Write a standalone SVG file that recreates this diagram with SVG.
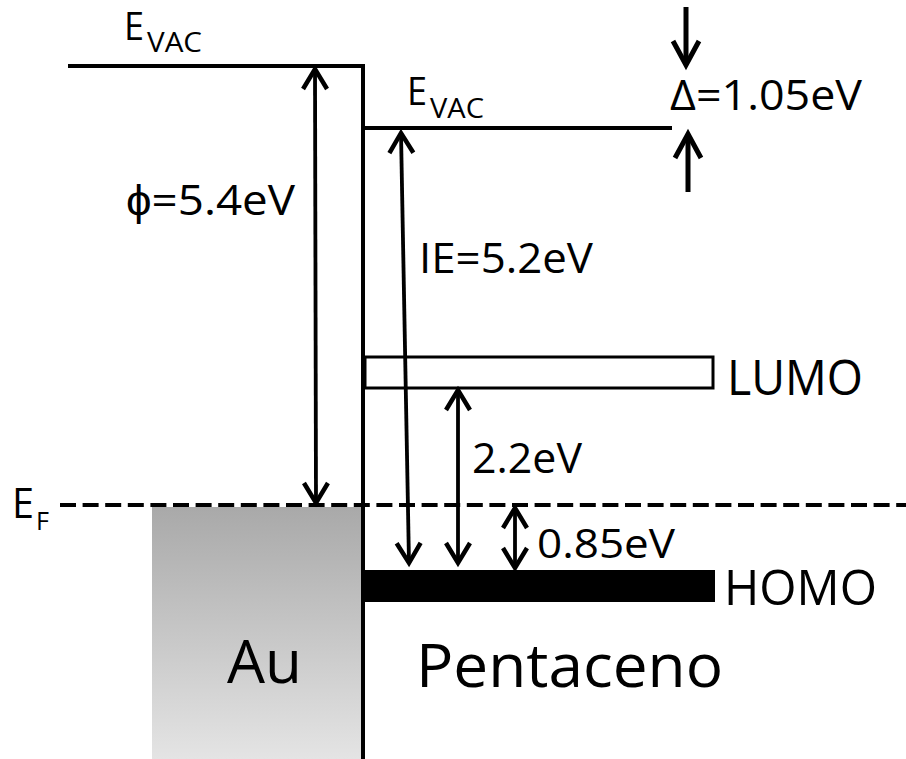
<svg xmlns="http://www.w3.org/2000/svg" width="906" height="759" viewBox="0 0 906 759">
<style>
.t{font-family:"Open Sans","Liberation Sans",sans-serif;fill:#000}
.lvl{stroke:#000;stroke-width:4;fill:none}
.arr{stroke:#000;stroke-width:3.8;fill:none;marker-start:url(#chev);marker-end:url(#chev)}
.arrB{stroke:#000;stroke-width:5;fill:none;marker-end:url(#chevB)}
</style>
<defs>
<marker id="chev" markerUnits="userSpaceOnUse" orient="auto-start-reverse" refX="0" refY="0" markerWidth="40" markerHeight="40" viewBox="-30 -20 40 40" overflow="visible">
<path d="M-20,-12 L0,0 L-20,12" fill="none" stroke="#000" stroke-width="4.5" stroke-linejoin="miter"/>
</marker>
<marker id="chevB" markerUnits="userSpaceOnUse" orient="auto" refX="0" refY="0" markerWidth="40" markerHeight="40" viewBox="-30 -20 40 40" overflow="visible">
<path d="M-24,-13 L0,0 L-24,13" fill="none" stroke="#000" stroke-width="5"/>
</marker>
<linearGradient id="auGrad" x1="0" y1="0" x2="0" y2="1">
<stop offset="0" stop-color="#a9a9a9"/>
<stop offset="1" stop-color="#e4e4e4"/>
</linearGradient>
</defs>
<rect width="906" height="759" fill="#fff"/>

<g id="au">
<rect x="152" y="507" width="210" height="252" fill="url(#auGrad)"/>
<text class="t" x="227" y="683" font-size="60" textLength="75" lengthAdjust="spacingAndGlyphs">Au</text>
</g>

<g id="interface">
<path class="lvl" d="M68,66 H363 V759"/>
</g>

<g id="evac-au">
<text class="t" x="124" y="40" font-size="39" textLength="20" lengthAdjust="spacingAndGlyphs">E</text>
<text class="t" x="147" y="52" font-size="27" textLength="55" lengthAdjust="spacingAndGlyphs">VAC</text>
</g>

<g id="evac-pent">
<path class="lvl" d="M363,128 H672"/>
<text class="t" x="407" y="105" font-size="39" textLength="20" lengthAdjust="spacingAndGlyphs">E</text>
<text class="t" x="430" y="118" font-size="27" textLength="54" lengthAdjust="spacingAndGlyphs">VAC</text>
</g>

<g id="ef">
<line x1="60" y1="505" x2="906" y2="505" stroke="#000" stroke-width="4" stroke-dasharray="16 6.6"/>
<text class="t" x="12" y="518" font-size="42" textLength="22" lengthAdjust="spacingAndGlyphs">E</text>
<text class="t" x="36" y="530" font-size="25" textLength="13" lengthAdjust="spacingAndGlyphs">F</text>
</g>

<g id="lumo">
<rect x="365" y="357" width="348" height="31" fill="#fff" stroke="#000" stroke-width="3"/>
<text class="t" x="727" y="395" font-size="49" textLength="136" lengthAdjust="spacingAndGlyphs">LUMO</text>
</g>

<g id="homo">
<rect x="363" y="570" width="352" height="32" fill="#000"/>
<text class="t" x="724" y="605" font-size="49" textLength="153" lengthAdjust="spacingAndGlyphs">HOMO</text>
</g>

<g id="pentaceno">
<text class="t" x="416" y="687" font-size="60" textLength="307" lengthAdjust="spacingAndGlyphs">Pentaceno</text>
</g>

<g id="connectors">
<line class="arr" x1="315" y1="69" x2="316" y2="503"/>
<line class="arr" x1="401" y1="133" x2="409" y2="563"/>
<line class="arr" x1="458" y1="390" x2="458" y2="563"/>
<line class="arr" x1="515" y1="508" x2="515" y2="568"/>
<line class="arrB" x1="686" y1="7" x2="686" y2="65"/>
<line class="arrB" x1="688" y1="192" x2="688" y2="134"/>
</g>

<g id="labels">
<text class="t" x="126" y="215" font-size="42" textLength="169" lengthAdjust="spacingAndGlyphs">ϕ=5.4eV</text>
<text class="t" x="419" y="273" font-size="42" textLength="174" lengthAdjust="spacingAndGlyphs">IE=5.2eV</text>
<text class="t" x="670" y="110" font-size="42" textLength="192" lengthAdjust="spacingAndGlyphs">Δ=1.05eV</text>
<text class="t" x="472" y="473" font-size="42" textLength="110" lengthAdjust="spacingAndGlyphs">2.2eV</text>
<text class="t" x="537" y="558" font-size="40" textLength="138" lengthAdjust="spacingAndGlyphs">0.85eV</text>
</g>
</svg>
